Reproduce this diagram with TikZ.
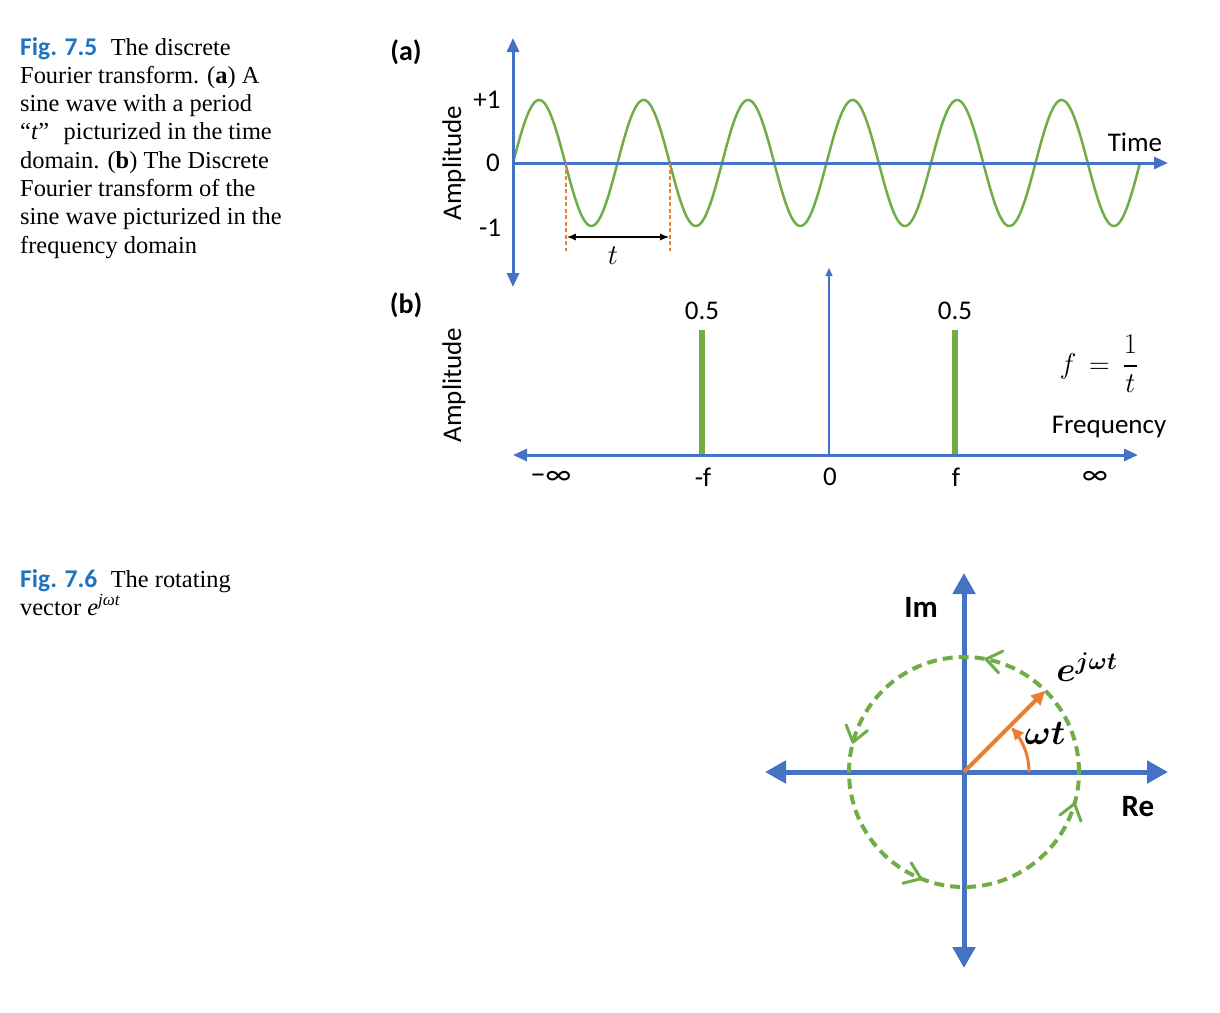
\documentclass[tikz,border=0pt]{standalone}
\usepackage{amsmath,bm}
\usepackage{fontspec}
\setmainfont{Liberation Serif}
\newfontfamily\calibri{Carlito}
\usetikzlibrary{arrows.meta}
\definecolor{axblue}{HTML}{4472C4}
\definecolor{wgreen}{HTML}{70AD47}
\definecolor{vorange}{HTML}{ED7D31}
\definecolor{figblue}{HTML}{1F74C0}
\begin{document}
\begin{tikzpicture}[x=1pt,y=-1pt,
  captxt/.style={anchor=base west, inner sep=0pt, font=\fontsize{24.4}{28.3}\selectfont},
  lbl/.style={inner sep=0pt, font=\calibri\fontsize{27}{32}\selectfont},
  blbl/.style={inner sep=0pt, font=\calibri\bfseries\fontsize{28}{32}\selectfont},
  axA/.style={draw=axblue, line width=3pt, arrows={-Triangle[length=14pt,width=12pt]}},
  axAA/.style={draw=axblue, line width=3pt, arrows={Triangle[length=14pt,width=12pt]-Triangle[length=14pt,width=12pt]}},
  axthin/.style={draw=axblue, line width=1.5pt, arrows={-Triangle[length=8pt,width=7pt]}},
  axC/.style={draw=axblue, line width=5pt, arrows={Triangle[length=21pt,width=22pt]-Triangle[length=21pt,width=22pt]}},
  wavestyle/.style={draw=wgreen, line width=2.5pt},
  spike/.style={draw=wgreen, line width=6pt},
  odash/.style={draw=vorange, line width=1.6pt, dash pattern=on 4pt off 2.5pt},
  periodarrow/.style={draw=black, line width=1.3pt, arrows={Latex[length=9pt,width=7pt]-Latex[length=9pt,width=7pt]}},
  rotcircle/.style={draw=wgreen, line width=4pt, dash pattern=on 10pt off 6pt},
  vecarrow/.style={draw=vorange, line width=4pt, arrows={-Triangle[length=14pt,width=13pt]}},
  angarrow/.style={draw=vorange, line width=3pt, arrows={-Triangle[length=12pt,width=11pt]}},
  chevline/.style={draw=wgreen, line width=3pt, line join=round, line cap=round},
]
\useasboundingbox (0,0) rectangle (1220,1012);
\fill[white] (0,0) rectangle (1220,1012);

% ---------- captions ----------
\node[captxt] (c1) at (20,55.0) {{\calibri\bfseries\color{figblue}\fontsize{25.5}{30}\selectfont Fig. 7.5}\hspace{0.55em}The discrete};
\node[captxt] (c2) at (20,83.3) {Fourier transform. (\textbf{a}) A};
\node[captxt] (c3) at (20,111.6) {sine wave with a period};
\node[captxt] (c4) at (20,139.9) {“\textit{t}”\hspace{0.6em}picturized in the time};
\node[captxt] (c5) at (20,168.2) {domain. (\textbf{b}) The Discrete};
\node[captxt] (c6) at (20,196.5) {Fourier transform of the};
\node[captxt] (c7) at (20,224.8) {sine wave picturized in the};
\node[captxt] (c8) at (20,253.1) {frequency domain};

\node[captxt] (d1) at (20,587) {{\calibri\bfseries\color{figblue}\fontsize{25.5}{30}\selectfont Fig. 7.6}\hspace{0.55em}The rotating};
\node[captxt] (d2) at (20,615) {vector \textit{e}\textsuperscript{\textit{jωt}}};

% ---------- panel (a) ----------
\coordinate (aT) at (513,38);
\coordinate (aB) at (513,287);
\coordinate (aO) at (513,163);
\coordinate (aE) at (1168,163);
\draw[wavestyle] plot[domain=0:627, samples=500] ({\x+513},{163-63*sin(\x/104.5*360)});
\draw[axAA] (aB) -- (aT);
\draw[axA] (aO) -- (aE);
\node[blbl] (la) at (406,52) {(a)};
\node[lbl, rotate=90] (ampa) at (454,163) {Amplitude};
\node[lbl] (p1) at (487,100) {+1};
\node[lbl] (z0) at (493,163) {0};
\node[lbl] (m1) at (490,228) {-1};
\node[lbl] (time) at (1135,142) {Time};
\coordinate (d1t) at (566,163);
\coordinate (d1b) at (566,251);
\coordinate (d2t) at (670,163);
\coordinate (d2b) at (670,251);
\draw[odash] (d1t) -- (d1b);
\draw[odash] (d2t) -- (d2b);
\coordinate (pl) at (566.8,237);
\coordinate (pr) at (669.2,237);
\draw[periodarrow] (pl) -- (pr);
\node[inner sep=0pt, font=\fontsize{24}{30}\selectfont, scale=1.15] (tl) at (613,256) {$t$};

% ---------- panel (b) ----------
\coordinate (bL) at (513,455);
\coordinate (bR) at (1138,455);
\coordinate (bO) at (829,455);
\coordinate (bT) at (829,268);
\coordinate (s1b) at (702,455);
\coordinate (s1t) at (702,330);
\coordinate (s2b) at (955,455);
\coordinate (s2t) at (955,330);
\draw[spike] (s1b) -- (s1t);
\draw[spike] (s2b) -- (s2t);
\draw[axthin] (bO) -- (bT);
\draw[axAA] (bL) -- (bR);
\node[blbl] (lb) at (406,305) {(b)};
\node[lbl, rotate=90] (ampb) at (454,385) {Amplitude};
\node[lbl] (h1) at (702,311) {0.5};
\node[lbl] (h2) at (955,311) {0.5};
\node[lbl, font=\calibri\fontsize{30}{32}\selectfont] (xm) at (551,478) {−∞};
\node[lbl] (xf1) at (703,477) {-f};
\node[lbl] (x0) at (830,477) {0};
\node[lbl] (xf2) at (956,477) {f};
\node[lbl, font=\calibri\fontsize{30}{32}\selectfont] (xi) at (1095,478) {∞};
\node[lbl] (freq) at (1109,427) {Frequency};
\node[inner sep=0pt, font=\fontsize{24}{30}\selectfont, scale=1.15] (feq) at (1099,364) {$f\,=\,\dfrac{1}{t}$};

% ---------- rotating vector ----------
\coordinate (C) at (964,772);
\coordinate (cL) at (765,772);
\coordinate (cR) at (1168,772);
\coordinate (cT) at (964,573);
\coordinate (cB) at (964,968);
\draw[axC] (cL) -- (cR);
\draw[axC] (cB) -- (cT);
\draw[rotcircle] plot[domain=0:360, samples=181] ({964+115*cos(\x)},{772-115*sin(\x)});
\foreach \a in {79,165,248,344}
  \draw[chevline] ({964+115*cos(\a)+15*sin(\a)+11*cos(\a)},{772-115*sin(\a)+15*cos(\a)-11*sin(\a)})
     -- ({964+115*cos(\a)},{772-115*sin(\a)})
     -- ({964+115*cos(\a)+15*sin(\a)-11*cos(\a)},{772-115*sin(\a)+15*cos(\a)+11*sin(\a)});
\coordinate (V) at (1045.3,690.7);
\draw[vecarrow] (C) -- (V);
\draw[angarrow] plot[domain=0:43, samples=30] ({964+65*cos(\x)},{772-65*sin(\x)});
\node[blbl, font=\calibri\bfseries\fontsize{31}{36}\selectfont] (im) at (921,607) {Im};
\node[blbl, font=\calibri\bfseries\fontsize{31}{36}\selectfont] (re) at (1138,807) {Re};
\node[inner sep=0pt, font=\fontsize{24}{30}\selectfont, scale=1.4] (wt) at (1045,733) {$\bm{\omega t}$};
\node[inner sep=0pt, font=\fontsize{24}{30}\selectfont, scale=1.4] (ej) at (1087,667) {$\bm{e^{j\omega t}}$};
\end{tikzpicture}
\end{document}
